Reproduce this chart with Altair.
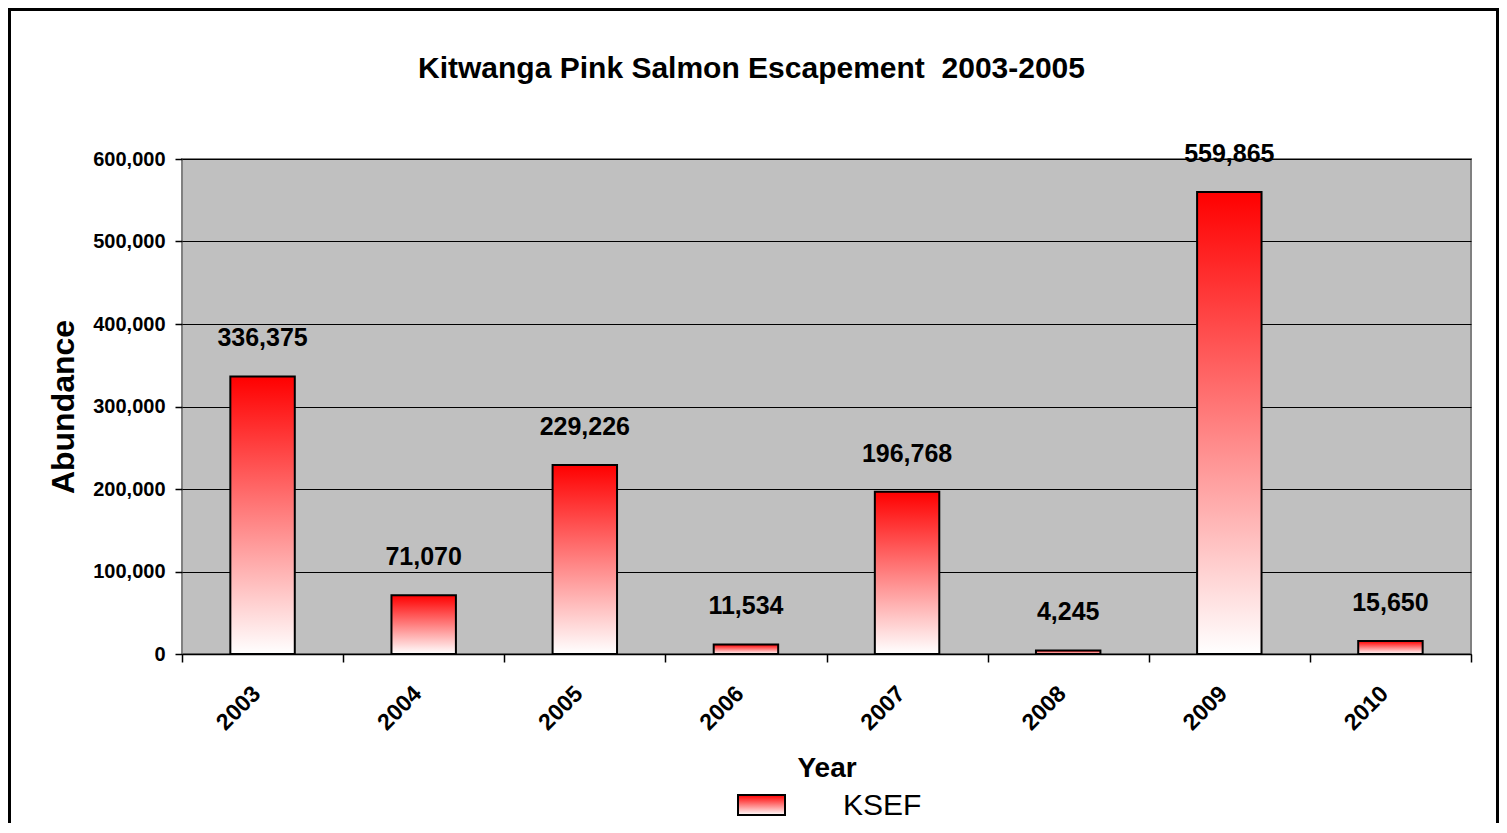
import altair as alt
import pandas as pd

# ---- data ----
years = ["2003", "2004", "2005", "2006", "2007", "2008", "2009", "2010"]
abundance = [336375, 71070, 229226, 11534, 196768, 4245, 559865, 15650]
y_ticks = [0, 100000, 200000, 300000, 400000, 500000, 600000]
series_name = ["KSEF"]
title_text = "Kitwanga Pink Salmon Escapement \u00a02003-2005"

df = pd.DataFrame({"Year": years, "Abundance": abundance})
df_leg = pd.DataFrame({"series": series_name})

W, H = 1289, 495
FONT = "Liberation Sans"

grad = alt.LinearGradient(
    gradient="linear",
    stops=[alt.GradientStop(color="#FF0000", offset=0),
           alt.GradientStop(color="#FFFFFF", offset=1)],
    x1=0, x2=0, y1=0, y2=1,
)

x_enc = alt.X(
    "Year:O",
    scale=alt.Scale(paddingInner=0, paddingOuter=0),
    axis=alt.Axis(
        title="Year", labelAngle=-45, labelAlign="right", labelBaseline="top",
        labelFontSize=23, labelFont=FONT, labelFontWeight="bold", labelColor="black",
        labelPadding=20, labelOffset=-14, tickBand="extent", tickSize=8, tickColor="black",
        tickWidth=1.5, domainColor="black", domainWidth=1.5, grid=False, zindex=1,
        titleFontSize=28, titleFont=FONT, titleFontWeight="bold", titleColor="black",
        titlePadding=20,
    ),
)
y_enc = alt.Y(
    "Abundance:Q",
    scale=alt.Scale(domain=[0, 600000]),
    axis=alt.Axis(
        values=y_ticks, format=",d", title="Abundance",
        labelFontSize=20, labelFont=FONT, labelFontWeight="bold", labelColor="black",
        labelPadding=10, tickSize=7, tickColor="black", tickWidth=1.5, domain=False,
        grid=True, gridColor="black", gridWidth=1,
        titleFontSize=32, titleFont=FONT, titleFontWeight="bold", titleColor="black",
        titlePadding=12,
    ),
)

bars = alt.Chart(df).mark_bar(
    width=alt.RelativeBandSize(0.4), color=grad, stroke="black", strokeWidth=2
).encode(x=x_enc, y=y_enc)

labels = alt.Chart(df).mark_text(
    dy=-30, baseline="alphabetic", fontSize=25, fontWeight="bold", font=FONT, color="black"
).encode(x="Year:O", y="Abundance:Q", text=alt.Text("Abundance:Q", format=","))

leg_box = alt.Chart(df_leg).mark_rect(color=grad, stroke="black", strokeWidth=2).encode(
    x=alt.value(556), x2=alt.value(603), y=alt.value(636), y2=alt.value(656)
)
leg_text = alt.Chart(df_leg).mark_text(
    align="left", baseline="alphabetic", fontSize=30, font=FONT, color="black"
).encode(x=alt.value(661), y=alt.value(656), text="series:N")

frame_l = alt.Chart(df_leg).mark_rule(color="black", strokeWidth=3).encode(
    x=alt.value(-172.5), y=alt.value(-151), y2=alt.value(664)
)
frame_t = alt.Chart(df_leg).mark_rule(color="black", strokeWidth=3).encode(
    x=alt.value(-174), x2=alt.value(1317), y=alt.value(-149.5)
)
frame_r = alt.Chart(df_leg).mark_rule(color="black", strokeWidth=3).encode(
    x=alt.value(1315.5), y=alt.value(-151), y2=alt.value(664)
)

chart = alt.layer(bars, labels, leg_box, leg_text, frame_l, frame_t, frame_r).properties(
    width=W, height=H,
    title=alt.TitleParams(
        text=title_text, fontSize=30, font=FONT, fontWeight="bold", color="black",
        anchor="middle", dx=-75, dy=101, offset=0, baseline="alphabetic",
    ),
    padding={"left": 174, "top": 151, "right": 28, "bottom": 169},
    autosize=alt.AutoSizeParams(type="none"),
    background="white",
).configure_view(fill="#C0C0C0", stroke="#808080", strokeWidth=2)

chart.save("out.html", embed_options={"renderer": "svg", "actions": False})
